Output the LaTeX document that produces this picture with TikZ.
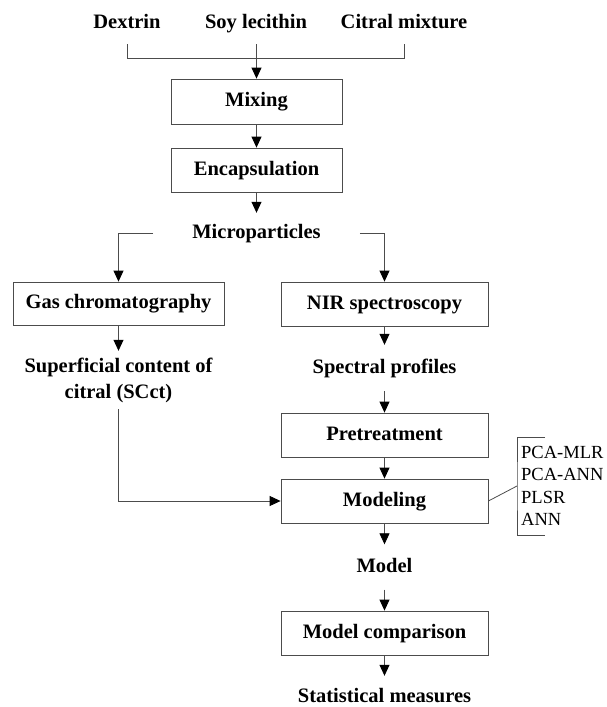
\documentclass[tikz,border=0pt]{standalone}
\usepackage{fontspec}
\setmainfont{Liberation Serif}
\usetikzlibrary{arrows.meta}
\begin{document}
\begin{tikzpicture}[x=1pt,y=-1pt,
  line/.style={draw=black!70,line width=0.8pt},
  arr/.style={line,-{Triangle[width=10pt,length=11pt,fill=black,color=black]}},
  box/.style={draw=black!70,line width=0.8pt,rectangle,inner sep=0pt,minimum height=44pt,
    font=\fontsize{20.5}{24}\selectfont\bfseries,text height=14pt,text depth=4pt},
  lbl/.style={inner sep=0pt,font=\fontsize{20.5}{24}\selectfont\bfseries,text height=14pt,text depth=4pt},
]
\useasboundingbox (0,0) rectangle (606,707);
% top inputs
\node[lbl] (dex) at (127,23) {Dextrin};
\node[lbl] (soy) at (256,23) {Soy lecithin};
\node[lbl] (cit) at (404,23) {Citral mixture};
\coordinate (bl) at (127,44);
\coordinate (bm) at (256.5,44);
\coordinate (br) at (404,44);
% main boxes
\node[box,minimum width=171pt,minimum height=45pt] (mix) at (256.5,101.5) {Mixing};
\node[box,minimum width=171pt] (enc) at (256.5,170) {Encapsulation};
\node[lbl,minimum height=40pt,inner xsep=39pt] (mic) at (256.5,233) {Microparticles};
\node[box,minimum width=211pt,minimum height=43pt] (gas) at (118.5,303.5) {Gas chromatography};
\node[box,minimum width=207pt] (nir) at (384.5,304) {NIR spectroscopy};
\node[inner sep=0pt,font=\fontsize{20.5}{26}\selectfont\bfseries,align=center,minimum height=58pt] (sup) at (118.5,380) {Superficial content of\\citral (SCct)};
\node[lbl,minimum height=46pt] (spe) at (384.5,368) {Spectral profiles};
\node[box,minimum width=207pt] (pre) at (384.5,435) {Pretreatment};
\node[box,minimum width=207pt] (mod) at (384.5,501) {Modeling};
\node[lbl,minimum height=45pt] (model) at (384.5,567) {Model};
\node[box,minimum width=207pt] (cmp) at (384.5,633) {Model comparison};
\node[lbl,minimum height=42pt] (stat) at (384.5,697) {Statistical measures};
% method list
\coordinate (mj) at (517,486);
\coordinate (bt) at (545,437);
\coordinate (bb) at (545,535);
\node[anchor=west,inner sep=0pt,align=left,font=\fontsize{18.5}{22.3}\selectfont] (list) at (521,486) {PCA-MLR\\PCA-ANN\\PLSR\\ANN};
% connectors
\draw[line] (bl) -- ++(0,14) -| (br);
\draw[arr] (bm) -- (mix);
\draw[arr] (mix) -- (enc);
\draw[arr] (enc) -- (mic);
\draw[arr] (mic.west) -| (gas);
\draw[arr] (mic.east) -| (nir);
\draw[arr] (gas) -- (sup);
\draw[arr] (sup) |- (mod);
\draw[arr] (nir) -- (spe);
\draw[arr] (spe) -- (pre);
\draw[arr] (pre) -- (mod);
\draw[arr] (mod) -- (model);
\draw[arr] (model) -- (cmp);
\draw[arr] (cmp) -- (stat);
\draw[line] (mod.east) -- (mj);
\draw[line] (bt) -| (mj) |- (bb);
\end{tikzpicture}
\end{document}
